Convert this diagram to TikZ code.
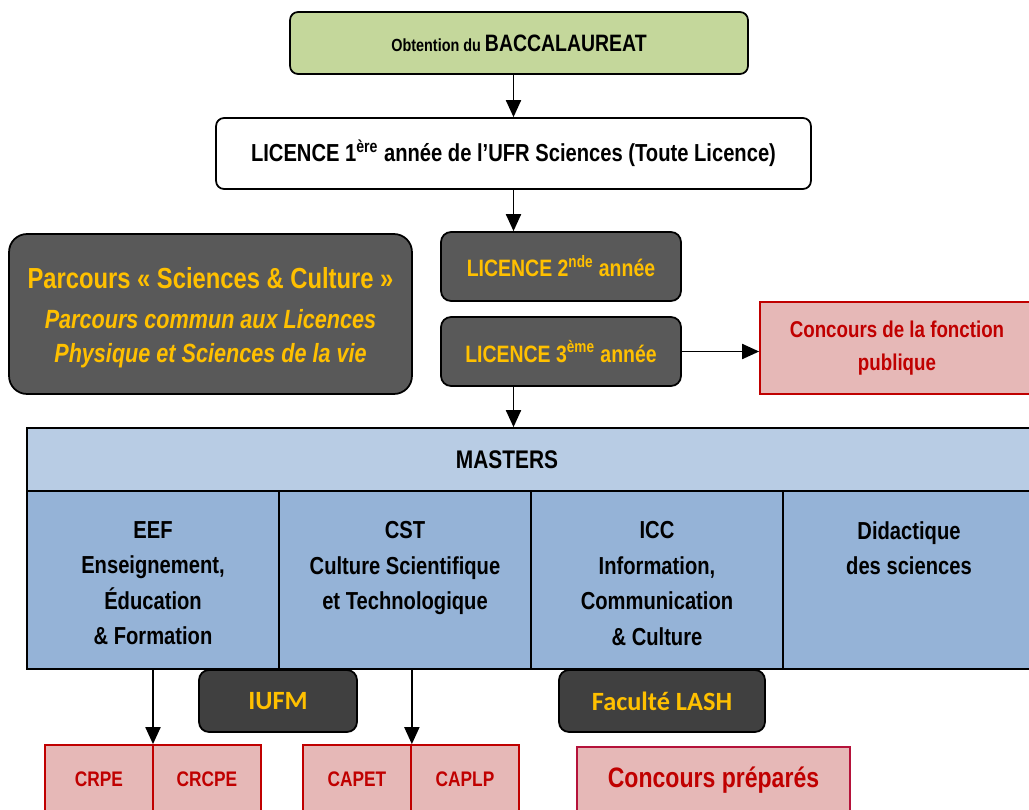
\documentclass[tikz,border=0pt]{standalone}
\usepackage{fontspec}
\setmainfont{Liberation Sans}[FakeStretch=0.82]
\newfontfamily\calib{Carlito}
\usepackage{xcolor}
\usepackage{tikz}
\usetikzlibrary{shapes.geometric, arrows, arrows.meta, positioning}
\definecolor{bacgreen}{HTML}{C4D79B}
\definecolor{greybox}{HTML}{595959}
\definecolor{darkbox}{HTML}{404040}
\definecolor{gold}{HTML}{FFC000}
\definecolor{pink}{HTML}{E6B8B7}
\definecolor{redline}{HTML}{C00000}
\definecolor{prepline}{HTML}{B5123A}
\definecolor{mhead}{HTML}{B8CCE4}
\definecolor{mcell}{HTML}{95B3D7}
\tikzstyle{start} = [rectangle, rounded corners=0.16cm, minimum width=9.16cm, minimum height=1.24cm, text centered, draw=black, line width=1pt, fill=bacgreen]
\tikzstyle{process} = [rectangle, rounded corners=0.16cm, minimum width=11.9cm, minimum height=1.42cm, text centered, draw=black, line width=1pt, font=\bfseries\fontsize{14}{17}\selectfont]
\tikzstyle{licence} = [rectangle, rounded corners=0.2cm, minimum width=4.8cm, minimum height=1.38cm, text centered, draw=black, line width=1pt, fill=greybox, text=gold, font=\bfseries\fontsize{13.5}{16}\selectfont]
\tikzstyle{parcours} = [rectangle, rounded corners=0.36cm, minimum width=8.06cm, minimum height=3.2cm, align=center, draw=black, line width=1pt, fill=greybox, text=gold, font=\bfseries\fontsize{15}{19.5}\selectfont]
\tikzstyle{concours} = [rectangle, minimum height=1.36cm, align=center, draw=redline, line width=1pt, fill=pink, text=redline, font=\bfseries\fontsize{13}{19}\selectfont]
\tikzstyle{mastercell} = [rectangle, minimum width=5.04cm, minimum height=3.56cm, draw=black, line width=1pt, fill=mcell]
\tikzstyle{celltxt} = [align=center, inner sep=0pt, font=\bfseries\fontsize{14}{20.2}\selectfont]
\tikzstyle{ecole} = [rectangle, rounded corners=0.2cm, minimum height=1.24cm, text centered, draw=black, line width=1pt, fill=darkbox, text=gold, font=\calib\bfseries\fontsize{15}{17}\selectfont]
\tikzstyle{arrow} = [line width=1.1pt,->,>={Triangle[length=0.34cm,width=0.3cm]}]

\begin{document}
\begin{tikzpicture}[x=0.02cm, y=-0.02cm]
   \useasboundingbox (0,0) rectangle (1029,809);
   \clip (0,0) rectangle (1029,809);
   \node (bac) [start] at (519,43) {\bfseries{\fontsize{10}{12}\selectfont Obtention du} {\fontsize{13.5}{16}\selectfont BACCALAUREAT}};
   \node (l1) [process] at (513.5,153.5) {LICENCE 1\textsuperscript{ère} année de l'UFR Sciences (Toute Licence)};
   \node (l2) [licence] at (561,266.5) {LICENCE 2\textsuperscript{nde} année};
   \node (l3) [licence] at (561,351.5) {LICENCE 3\textsuperscript{ème} année};
   \node (parc) [parcours] at (210.5,314) {};
   \node (parctxt) [align=center, text=gold, font=\bfseries\fontsize{15}{19.5}\selectfont] at (210.5,318) {{\fontsize{16.5}{20}\selectfont Parcours «~Sciences \& Culture~»}\\[3pt]
      {\itshape Parcours commun aux Licences}\\
      {\itshape Physique et Sciences de la vie}};
   \node (fonc) [concours, minimum width=5.48cm, minimum height=1.84cm] at (897,348) {Concours de la fonction\\publique};
   % masters
   \node (mhead) [rectangle, minimum width=20.16cm, minimum height=1.26cm, draw=black, line width=1pt, fill=mhead] at (531,459.5) {};
   \node (mtxt) [celltxt, font=\bfseries\fontsize{14.5}{17}\selectfont] at (507,459.5) {MASTERS};
   \node (eef) [mastercell] at (153,580) {};
   \node (cst) [mastercell] at (405,580) {};
   \node (icc) [mastercell] at (657,580) {};
   \node (did) [mastercell] at (909,580) {};
   \node (eeftxt) [celltxt, below=0.62cm of eef.north] {EEF\\Enseignement,\\Éducation\\\& Formation};
   \node (csttxt) [celltxt, below=0.62cm of cst.north] {CST\\Culture Scientifique\\et Technologique};
   \node (icctxt) [celltxt, below=0.62cm of icc.north] {ICC\\Information,\\Communication\\\& Culture};
   \node (didtxt) [celltxt, below=0.62cm of did.north] {Didactique\\des sciences};
   % concours
   \node (crpe) [concours, minimum width=2.16cm, font=\bfseries\fontsize{12}{14}\selectfont] at (99,779) {CRPE};
   \node (crcpe) [concours, minimum width=2.16cm, font=\bfseries\fontsize{12}{14}\selectfont] at (207,779) {CRCPE};
   \node (capet) [concours, minimum width=2.16cm, font=\bfseries\fontsize{12}{14}\selectfont] at (357,779) {CAPET};
   \node (caplp) [concours, minimum width=2.16cm, font=\bfseries\fontsize{12}{14}\selectfont] at (465,779) {CAPLP};
   \node (prep) [concours, draw=prepline, minimum width=5.46cm, minimum height=1.32cm, font=\bfseries\fontsize{16}{20}\selectfont] at (713.5,780) {Concours préparés};
   \node (iufm) [ecole, minimum width=3.16cm] at (278,701) {IUFM};
   \node (lash) [ecole, minimum width=4.12cm] at (662,701) {Faculté LASH};
   \draw [arrow] (l1.north |- bac.south) -- (l1.north);
   \draw [arrow] (l1.south) -- (l1.south |- l2.north);
   \draw [arrow] (l3.east) -- (l3.east -| fonc.west);
   \draw [arrow] (l1.south |- l3.south) -- (l1.south |- mhead.north);
   \draw [arrow] (eef.south) -- (eef.south |- crpe.north);
   \draw [arrow] (cst.south -| capet.north east) -- (capet.north east);
\end{tikzpicture}
\end{document}
